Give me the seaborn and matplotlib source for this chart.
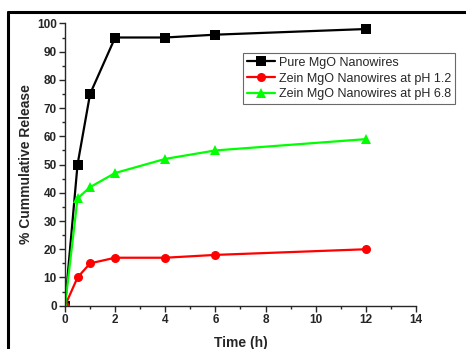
import numpy as np
import pandas as pd
import seaborn as sns
import matplotlib.pyplot as plt
from matplotlib.lines import Line2D
from matplotlib.ticker import MultipleLocator

# data
time_h = [0, 0.5, 1, 2, 4, 6, 12]
pure_mgo = [0, 50, 75, 95, 95, 96, 98]
zein_ph12 = [0, 10, 15, 17, 17, 18, 20]
zein_ph68 = [0, 38, 42, 47, 52, 55, 59]

labels = ['Pure MgO Nanowires', 'Zein MgO Nanowires at pH 1.2', 'Zein MgO Nanowires at pH 6.8']
colors = ['#000000', '#ff0000', '#00ff00']
markers = ['s', 'o', '^']

df = pd.DataFrame({
    'time': time_h * 3,
    'release': pure_mgo + zein_ph12 + zein_ph68,
    'series': [labels[0]] * 7 + [labels[1]] * 7 + [labels[2]] * 7,
})

sns.set_style('ticks')
plt.rcParams['font.family'] = ['Liberation Sans', 'DejaVu Sans']

fig = plt.figure(figsize=(4.66, 3.49), dpi=100)
ax = fig.add_axes([0.1395, 0.124, 0.753, 0.809])

sns.lineplot(data=df, x='time', y='release', hue='series', style='series',
             palette=colors, markers=markers, dashes=False, markersize=6.5,
             markeredgewidth=0, linewidth=1.6, ax=ax, legend=False)

ax.set_xlim(0, 14)
ax.set_ylim(0, 100)
ax.xaxis.set_major_locator(MultipleLocator(2))
ax.xaxis.set_minor_locator(MultipleLocator(1))
ax.yaxis.set_major_locator(MultipleLocator(10))
ax.yaxis.set_minor_locator(MultipleLocator(5))
ax.tick_params(which='major', direction='out', length=4, width=1, labelsize=8.5, pad=2)
ax.tick_params(which='minor', direction='out', length=2.5, width=1)
for lab in ax.get_xticklabels() + ax.get_yticklabels():
    lab.set_fontweight('bold')
sns.despine(ax=ax)
for s in ['left', 'bottom']:
    ax.spines[s].set_linewidth(1)

ax.set_xlabel('Time (h)', fontsize=10, fontweight='bold', labelpad=7)
ax.set_ylabel('% Cummulative Release', fontsize=10, fontweight='bold', labelpad=3)

handles = [Line2D([], [], color=c, marker=m, markersize=6.5, markeredgewidth=0, linewidth=1.6)
           for c, m in zip(colors, markers)]
leg = ax.legend(handles, labels, loc='upper left', bbox_to_anchor=(0.521, 0.848),
                bbox_transform=fig.transFigure, fontsize=9, frameon=True,
                fancybox=False, edgecolor='#444444', labelspacing=0.3,
                handlelength=2.3, handletextpad=0.3, borderpad=0.3, borderaxespad=0)
leg.get_frame().set_linewidth(0.8)

# outer frame of the original panel (cut off at right and bottom)
fig.add_artist(Line2D([0.017, 1.0], [0.9656, 0.9656], color='black', linewidth=2.2,
                      transform=fig.transFigure))
fig.add_artist(Line2D([0.017, 0.017], [0.9656, 0.0], color='black', linewidth=2.2,
                      transform=fig.transFigure))

fig.savefig('out.png', dpi=100)
